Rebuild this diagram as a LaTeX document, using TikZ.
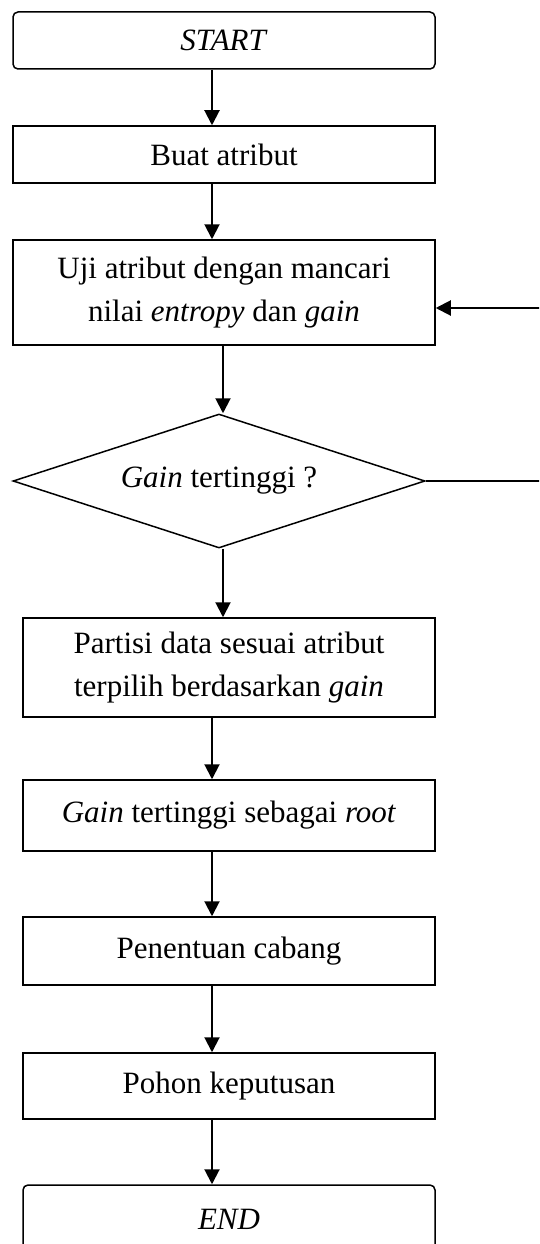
\documentclass[tikz,border=0pt]{standalone}
\usepackage{fontspec}
\setmainfont{Liberation Serif}
\usetikzlibrary{arrows.meta,shapes.geometric}

\tikzset{
  lbl/.style={font=\fontsize{31}{43}\selectfont, align=center, inner sep=0pt},
  procbox/.style={lbl, draw, line width=1.5pt, rectangle},
  termbox/.style={procbox, rounded corners=5pt},
  decbox/.style={lbl, draw, line width=1.5pt, diamond, aspect=3.07,
    minimum width=412pt, minimum height=134pt},
  flow/.style={line width=2pt, -{Triangle[length=15pt,width=15pt]}},
  plain/.style={line width=2pt}
}

\begin{document}
\begin{tikzpicture}[x=1pt,y=-1pt]
  \clip (0,0) rectangle (539,1244);
  \fill[white] (0,0) rectangle (539,1244);

  % main column
  \node[termbox, minimum width=422pt, minimum height=57pt] (start) at (224,40.5) {\textit{START}};
  \node[procbox, minimum width=422pt, minimum height=57pt] (buat) at (224,154.5) {Buat atribut};
  \node[procbox, minimum width=422pt, minimum height=105pt] (uji) at (224,292.5)
    {Uji atribut dengan mancari\\nilai \textit{entropy} dan \textit{gain}};
  \node[decbox] (gain) at (219,481) {\textit{Gain} tertinggi ?};
  \node[procbox, minimum width=412pt, minimum height=99pt] (partisi) at (229,667.5)
    {Partisi data sesuai atribut\\terpilih berdasarkan \textit{gain}};
  \node[procbox, minimum width=412pt, minimum height=71pt] (root) at (229,815.5)
    {\textit{Gain} tertinggi sebagai \textit{root}};
  \node[procbox, minimum width=412pt, minimum height=68pt] (cabang) at (229,951) {Penentuan cabang};
  \node[procbox, minimum width=412pt, minimum height=66pt] (pohon) at (229,1086) {Pohon keputusan};
  \node[termbox, minimum width=412pt, minimum height=68pt] (end) at (229,1219) {\textit{END}};

  % loop back ends beyond the right edge
  \coordinate (loopin) at (545,308);
  \coordinate (loopout) at (545,481);

  % connectors
  \draw[flow] ([xshift=-12pt]start.south) -- ([xshift=-12pt]buat.north);
  \draw[flow] ([xshift=-12pt]buat.south) -- ([xshift=-12pt]uji.north);
  \draw[flow] (uji.south -| 223,0) -- (gain.north -| 223,0);
  \draw[flow] (gain.south -| 223,0) -- (partisi.north -| 223,0);
  \draw[flow] ([xshift=-17pt]partisi.south) -- ([xshift=-17pt]root.north);
  \draw[flow] ([xshift=-17pt]root.south) -- ([xshift=-17pt]cabang.north);
  \draw[flow] ([xshift=-17pt]cabang.south) -- ([xshift=-17pt]pohon.north);
  \draw[flow] ([xshift=-17pt]pohon.south) -- ([xshift=-17pt]end.north);
  \draw[flow] (loopin) -- (uji.east |- loopin);
  \draw[plain] (gain.east) -- (loopout);
\end{tikzpicture}
\end{document}
